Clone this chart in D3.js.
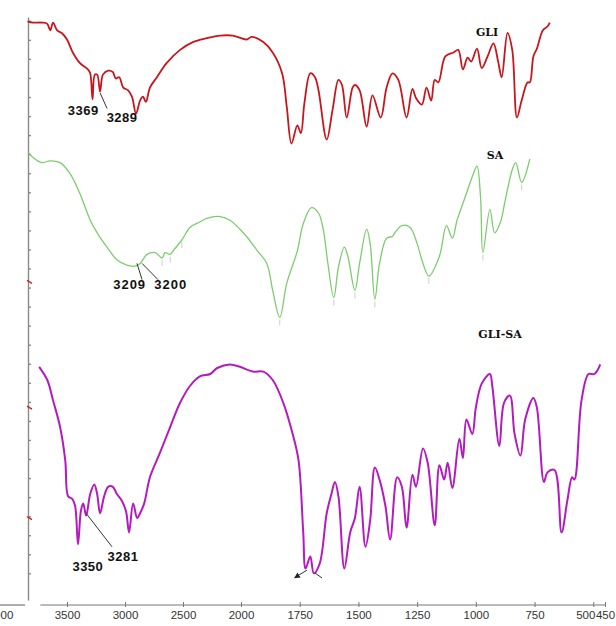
<!DOCTYPE html>
<html>
<head>
<meta charset="utf-8">
<script src="https://cdn.jsdelivr.net/npm/d3@7"></script>
<style>
  body { margin: 0; background: #fff; }
  #chart { width: 616px; height: 626px; }
</style>
</head>
<body>
<div id="chart"></div>
<script>
const width = 616, height = 626;

// x axis ticks (cm-1), scale changes at 2000
const xTicks = [4000, 3500, 3000, 2500, 2000, 1750, 1500, 1250, 1000, 750, 500, 450];

// GLI spectrum: wavenumber (cm-1) and %T
const gliWave = [3840, 3795, 3715, 3670, 3645, 3620, 3585, 3545, 3500, 3450, 3390, 3320, 3300, 3280, 3260, 3240,
  3215, 3190, 3145, 3105, 3080, 3050, 3015, 2975, 2940, 2905, 2870, 2845, 2820, 2785, 2725, 2640, 2525, 2415,
  2295, 2180, 2070, 1975, 1955, 1905, 1865, 1825, 1805, 1785, 1760, 1745, 1730, 1705, 1685, 1670, 1635, 1610,
  1585, 1570, 1550, 1525, 1515, 1495, 1465, 1440, 1405, 1380, 1355, 1330, 1295, 1270, 1255, 1230, 1210, 1190,
  1175, 1160, 1130, 1095, 1075, 1055, 1035, 1020, 995, 975, 950, 925, 905, 890, 865, 845, 825, 805, 780, 770,
  755, 740, 715, 695, 685];
const gliT = [99, 98, 98, 97, 92, 98, 92, 90, 85, 75, 67, 62, 59, 39, 58, 58,
  45, 58, 61, 60, 55, 56, 48, 46, 41, 28, 38, 41, 37, 48, 56, 67, 77, 83,
  86, 88, 88, 85, 87, 83, 75, 59, 33, 5, 19, 13, 36, 59, 56, 46, 8, 31,
  54, 50, 25, 48, 50, 46, 18, 42, 25, 48, 59, 54, 25, 47, 40, 35, 48, 38,
  54, 52, 72, 75, 77, 62, 71, 68, 78, 63, 72, 82, 68, 56, 90, 77, 25, 38, 52, 52,
  72, 78, 92, 95, 98];

// SA spectrum
const saWave = [3835, 3795, 3715, 3645, 3560, 3475, 3390, 3300, 3240, 3155, 3070, 2985, 2915, 2870, 2810, 2740,
  2680, 2655, 2610, 2585, 2510, 2440, 2355, 2295, 2180, 2095, 1990, 1930, 1890, 1865, 1835, 1805, 1760, 1735,
  1700, 1670, 1650, 1630, 1605, 1585, 1560, 1545, 1515, 1495, 1465, 1450, 1430, 1410, 1380, 1355, 1345, 1315,
  1280, 1250, 1225, 1200, 1155, 1125, 1100, 1080, 1045, 1010, 995, 980, 970, 940, 920, 895, 875, 845, 830,
  805, 770];
const saT = [99, 96, 93, 94, 93, 87, 76, 61, 54, 46, 39, 36, 35.5, 37, 42, 43,
  40, 43, 42, 44, 50, 57, 60, 62, 63, 61, 54, 44, 37, 22, 7, 26, 44, 59,
  68, 65, 56, 37, 18, 35, 46, 41, 22, 37, 56, 48, 17, 37, 51, 52, 54, 58,
  57, 48, 37, 30, 41, 58, 51, 61, 74, 87, 91, 74, 43, 67, 54, 60, 72, 89, 93,
  82, 95];

// GLI-SA spectrum
const mixWave = [3740, 3670, 3620, 3560, 3515, 3490, 3455, 3430, 3405, 3380, 3360, 3335, 3300, 3265, 3240, 3215,
  3180, 3145, 3105, 3070, 3025, 2990, 2965, 2930, 2895, 2870, 2835, 2785, 2700, 2610, 2525, 2440, 2355, 2265,
  2205, 2095, 2010, 1950, 1905, 1865, 1820, 1780, 1755, 1735, 1725, 1705, 1690, 1665, 1635, 1615, 1600, 1585,
  1560, 1535, 1515, 1495, 1470, 1450, 1430, 1410, 1385, 1365, 1335, 1315, 1295, 1270, 1255, 1225, 1205, 1175,
  1155, 1135, 1120, 1100, 1070, 1055, 1040, 1015, 1000, 975, 940, 930, 900, 880, 855, 835, 810, 790, 755, 740,
  710, 695, 665, 635, 610, 590, 580, 550, 520, 495, 470];
const mixT = [93, 87.5, 79, 68, 54, 39, 38, 35, 19, 33, 36, 31, 40, 44, 40, 32,
  39, 43, 43, 40, 37, 32.5, 24, 36, 30, 32, 36, 47, 57, 68, 78, 85, 89, 90,
  92.5, 94, 93, 91, 91, 87.5, 78, 65, 54, 24, 9, 14, 7, 11, 32, 40, 45, 39,
  9, 24, 30, 43, 18, 29, 51, 46, 35, 21, 47, 43, 26, 48, 43, 59, 53, 27,
  52, 46, 53, 42.5, 63, 55, 71, 65, 76, 86, 90, 85, 60, 78, 81, 65, 56, 71, 80, 76,
  45, 49, 50, 24, 37.5, 47, 46, 79, 90, 90, 94];

// faint peak-pick marks under SA bands
const saMarks = [[2680, 40], [2610, 42], [2510, 50], [1835, 7], [1605, 18], [1515, 22], [1430, 17], [1200, 30], [970, 43], [805, 82]];

// red offset markers on the left axis (stack units)
const redMarks = [15.3, 8.7, 2.9];

// annotated bands
const notes = [
  { text: "3369", w: 3360, t: 27, panel: "gli", ls: 0.5 },
  { text: "3289", w: 3025, t: 21.5, panel: "gli", ls: 0.5 },
  { text: "3209", w: 2960, t: 22.8, panel: "sa", ls: 1 },
  { text: "3200", w: 2605, t: 22.8, panel: "sa", ls: 1 },
  { text: "3281", w: 3017, t: 12, panel: "mix", ls: 0.5 },
  { text: "3350", w: 3320, t: 8, panel: "mix", ls: 0.5 }
];
const leaders = [
  { w1: 3215, t1: 44, w2: 3155, t2: 32, panel: "gli", arrow: false },
  { w1: 2897, t1: 37, w2: 2853, t2: 28, panel: "sa", arrow: false },
  { w1: 2853, t1: 37, w2: 2716, t2: 28, panel: "sa", arrow: false },
  { w1: 3336, t1: 32, w2: 3112, t2: 18, panel: "mix", arrow: false },
  { w1: 1719, t1: 8.3, w2: 1770, t2: 5.2, panel: "mix", arrow: true },
  { w1: 1685, t1: 7.1, w2: 1655, t2: 5, panel: "mix", arrow: false }
];
const names = [
  { text: "GLI", w: 952, t: 88, panel: "gli" },
  { text: "SA", w: 918, t: 95, panel: "sa" },
  { text: "GLI-SA", w: 897, t: 105, panel: "mix" }
];

const svg = d3.select("#chart")
  .append("svg")
  .attr("width", width)
  .attr("height", height)
  .attr("viewBox", [0, 0, width, height]);

svg.append("rect").attr("width", width).attr("height", height).attr("fill", "#fff");

// nonlinear FTIR axis: 500 cm-1 per step above 2000, 250 below
const x = d3.scaleLinear().domain([4000, 2000, 450]).range([9, 241, 605]);

const y = {
  gli: d3.scaleLinear().domain([0, 100]).range([150, 20]),
  sa: d3.scaleLinear().domain([0, 100]).range([330, 150]),
  mix: d3.scaleLinear().domain([0, 100]).range([590, 350])
};
const yStack = d3.scaleLinear().domain([-1.4, 29.2]).range([600, 17]);

// left axis
const leftAxis = svg.append("g")
  .attr("transform", "translate(28,0)")
  .call(d3.axisRight(yStack).tickValues(d3.range(0, 30)).tickSize(3).tickSizeOuter(0).tickFormat(""));
leftAxis.selectAll("path, line").attr("stroke", "#8a8a8a").attr("stroke-width", 1.4);

svg.append("g")
  .selectAll("line")
  .data(redMarks)
  .enter()
  .append("line")
  .attr("x1", 27)
  .attr("x2", 32)
  .attr("y1", (d) => yStack(d) - 1.5)
  .attr("y2", (d) => yStack(d) + 1.5)
  .attr("stroke", "#d02020")
  .attr("stroke-width", 1.3);

// bottom axis
const xAxis = svg.append("g")
  .attr("transform", "translate(0,605)")
  .call(d3.axisBottom(x).tickValues(xTicks).tickSize(-3).tickSizeOuter(0).tickPadding(6).tickFormat(d3.format("d")));
xAxis.select(".domain").remove();
xAxis.selectAll(".tick line")
  .attr("stroke", "#777")
  .attr("y2", 2)
  .attr("y1", -3)
  .filter((d) => d === 4000).remove();
xAxis.selectAll("text")
  .attr("font-family", "'Liberation Sans', Arial, sans-serif")
  .attr("font-size", 11.5)
  .attr("fill", "#333")
  .attr("dx", (d) => (d === 4000 ? -9 : d === 500 ? -8 : d === 450 ? 0 : 0));
[[3730, 450], [4078, 3862]].forEach(([a, b]) => {
  xAxis.append("line")
    .attr("x1", x(a))
    .attr("x2", x(b))
    .attr("stroke", "#777")
    .attr("stroke-width", 1.2);
});

// spectra
const series = [
  { key: "gli", wave: gliWave, t: gliT, color: "#c8161d", w: 1.8 },
  { key: "sa", wave: saWave, t: saT, color: "#7dcc6e", w: 1.3 },
  { key: "mix", wave: mixWave, t: mixT, color: "#b31bbf", w: 2 }
];

series.forEach((s) => {
  const line = d3.line()
    .x((d) => x(d[0]))
    .y((d) => y[s.key](d[1]))
    .curve(d3.curveCatmullRom.alpha(0.5));
  svg.append("path")
    .datum(d3.zip(s.wave, s.t))
    .attr("fill", "none")
    .attr("stroke", s.color)
    .attr("stroke-width", s.w)
    .attr("stroke-linejoin", "round")
    .attr("d", line);
});

// faint peak marks
svg.append("g")
  .selectAll("line")
  .data(saMarks)
  .enter()
  .append("line")
  .attr("x1", (d) => x(d[0]))
  .attr("x2", (d) => x(d[0]))
  .attr("y1", (d) => y.sa(d[1]) + 2)
  .attr("y2", (d) => y.sa(d[1]) + 8)
  .attr("stroke", "#cfcfcf")
  .attr("stroke-width", 1);

// leader lines
svg.append("defs")
  .append("marker")
  .attr("id", "arr")
  .attr("viewBox", "0 0 10 10")
  .attr("refX", 8)
  .attr("refY", 5)
  .attr("markerWidth", 6)
  .attr("markerHeight", 6)
  .attr("orient", "auto")
  .append("path")
  .attr("d", "M0,0L10,5L0,10z")
  .attr("fill", "#222");

svg.append("g")
  .selectAll("line")
  .data(leaders)
  .enter()
  .append("line")
  .attr("x1", (d) => x(d.w1))
  .attr("y1", (d) => y[d.panel](d.t1))
  .attr("x2", (d) => x(d.w2))
  .attr("y2", (d) => y[d.panel](d.t2))
  .attr("stroke", "#333")
  .attr("stroke-width", 1)
  .attr("marker-end", (d) => (d.arrow ? "url(#arr)" : null));

// band labels
svg.append("g")
  .selectAll("text")
  .data(notes)
  .enter()
  .append("text")
  .attr("x", (d) => x(d.w))
  .attr("y", (d) => y[d.panel](d.t))
  .attr("text-anchor", "middle")
  .attr("font-family", "'Liberation Sans', Arial, sans-serif")
  .attr("font-weight", "bold")
  .attr("font-size", 13)
  .attr("letter-spacing", (d) => d.ls)
  .attr("fill", "#111")
  .text((d) => d.text);

// spectrum names
svg.append("g")
  .selectAll("text")
  .data(names)
  .enter()
  .append("text")
  .attr("x", (d) => x(d.w))
  .attr("y", (d) => y[d.panel](d.t))
  .attr("text-anchor", "middle")
  .attr("font-family", "'DejaVu Serif', serif")
  .attr("font-weight", "bold")
  .attr("font-size", 11)
  .attr("fill", "#111")
  .text((d) => d.text);
</script>
</body>
</html>
